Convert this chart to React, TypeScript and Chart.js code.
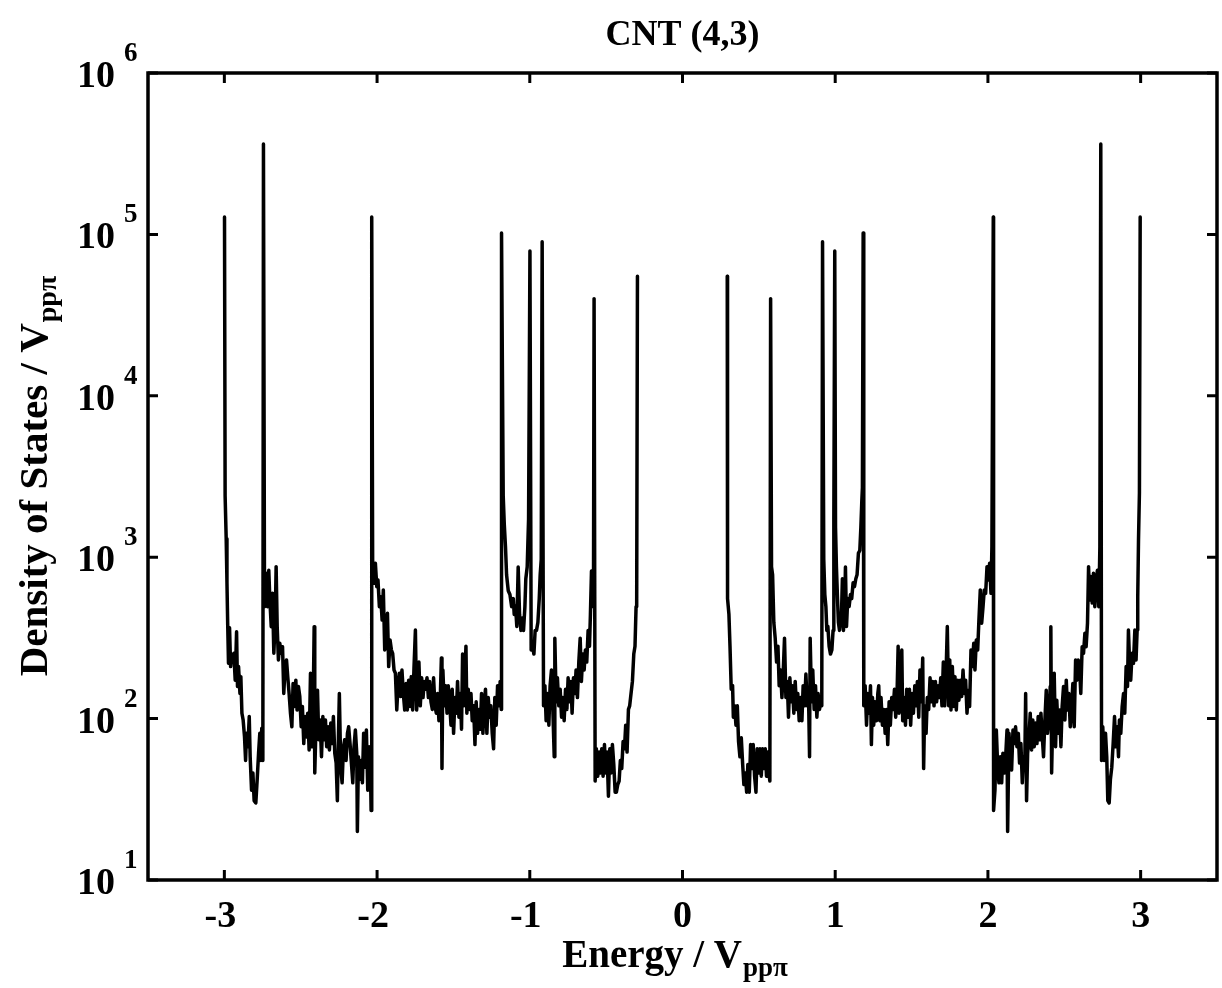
import React, { useEffect, useRef } from "react";
import { Chart, registerables } from "chart.js";

Chart.register(...registerables);

// Energy (units of V_pp-pi) and density of states, left half of spectrum
const energyNeg: number[] = [
  -2.999, -2.995, -2.988, -2.983, -2.978, -2.973, -2.966, -2.959, -2.953, -2.946, -2.938, -2.929, -2.92, -2.914, -2.907, -2.898, -2.892, -2.885, -2.877, -2.868, -2.861, -2.855, -2.846, -2.837, -2.831, -2.822, -2.813, -2.805, -2.794, -2.785, -2.776, -2.768, -2.761, -2.755, -2.748, -2.744,
  -2.737, -2.726, -2.717, -2.709, -2.702, -2.693, -2.685, -2.676, -2.667, -2.661, -2.654, -2.646, -2.637, -2.628, -2.619, -2.611, -2.602, -2.593, -2.585, -2.576, -2.567, -2.558, -2.55, -2.541, -2.532, -2.524, -2.515, -2.506, -2.497, -2.489, -2.48, -2.471, -2.462, -2.454, -2.445, -2.436, -2.428, -2.419, -2.412, -2.408, -2.399, -2.39, -2.382, -2.373, -2.364, -2.355, -2.347, -2.338, -2.33, -2.321, -2.312, -2.303, -2.294, -2.286, -2.277, -2.268, -2.26, -2.253, -2.247, -2.238, -2.229, -2.22, -2.212, -2.203, -2.194, -2.186, -2.177, -2.168, -2.159, -2.151, -2.142, -2.133, -2.129, -2.122, -2.114, -2.105, -2.096, -2.088, -2.079, -2.07, -2.061, -2.052, -2.044, -2.039, -2.035,
  -2.029, -2.02, -2.011, -2.002, -1.994, -1.985, -1.976, -1.967, -1.959, -1.95, -1.941, -1.932, -1.924, -1.915, -1.906, -1.898, -1.889, -1.88, -1.871, -1.863, -1.854, -1.845, -1.837, -1.828, -1.819, -1.81, -1.802, -1.793, -1.784, -1.776, -1.767, -1.758, -1.749, -1.741, -1.732,
  -1.726, -1.717, -1.708, -1.699, -1.691, -1.682, -1.673, -1.664, -1.656, -1.647, -1.638, -1.63, -1.621, -1.612, -1.604, -1.595, -1.586, -1.579, -1.575, -1.569, -1.56, -1.551, -1.542, -1.534, -1.525, -1.516, -1.508, -1.499, -1.49, -1.481, -1.473, -1.464, -1.455, -1.447, -1.44, -1.433, -1.425, -1.418, -1.412, -1.403, -1.394, -1.385, -1.377, -1.368, -1.359, -1.351, -1.342, -1.333, -1.324, -1.316, -1.307, -1.298, -1.29, -1.281, -1.272, -1.263, -1.255, -1.246, -1.237, -1.229, -1.22, -1.211, -1.202, -1.194, -1.187, -1.185,
  -1.174, -1.167, -1.159, -1.152, -1.141, -1.13, -1.119, -1.108, -1.102, -1.093, -1.085, -1.076, -1.067, -1.058, -1.05, -1.041, -1.032, -1.026, -1.017, -1.008, -0.999,
  -0.991, -0.982, -0.973, -0.965, -0.956, -0.947, -0.938, -0.932, -0.925, -0.919,
  -0.91, -0.901, -0.893, -0.884, -0.875, -0.867, -0.858, -0.849, -0.84, -0.836, -0.827, -0.819, -0.81, -0.801, -0.792, -0.784, -0.775, -0.766, -0.757, -0.749, -0.74, -0.731, -0.723, -0.714, -0.705, -0.697, -0.688, -0.679, -0.67, -0.662, -0.653, -0.644, -0.636, -0.627, -0.618, -0.609, -0.603, -0.596, -0.588, -0.583, -0.579,
  -0.572, -0.564, -0.555, -0.546, -0.537, -0.529, -0.52, -0.511, -0.503, -0.494, -0.485, -0.476, -0.468, -0.459, -0.45, -0.441, -0.433, -0.424, -0.415, -0.407, -0.398, -0.389, -0.38, -0.372, -0.363, -0.354, -0.346, -0.337, -0.328, -0.319, -0.311, -0.304, -0.3, -0.295,
];
const dosNeg: number[] = [
  128000, 2400, 1300, 700, 380, 220, 365, 210, 250, 226, 254, 173, 345, 158, 210, 143, 182, 108, 98, 77, 55, 81, 67, 103, 58, 36, 46, 31, 30, 42, 61, 81, 55, 87, 55, 363000,
  494, 794, 494, 830, 543, 371, 597, 254, 408, 874, 371, 231, 293, 254, 279, 143, 210, 231, 182, 143, 108, 89, 165, 119, 173, 113, 158, 137, 89, 119, 70, 103, 77, 108, 64, 191, 67, 108, 371, 46, 98, 150, 74, 98, 58, 103, 74, 98, 67, 89, 64, 94, 70, 103, 61, 53, 31, 77, 143, 50, 40, 67, 74, 55, 81, 89, 70, 53, 40, 67, 85, 61, 20, 58, 42, 55, 40, 81, 50, 85, 36, 67, 53, 27, 128000,
  961, 690, 916, 657, 722, 494, 569, 408, 627, 266, 307, 449, 210, 307, 266, 254, 200, 191, 113, 158, 191, 137, 200, 143, 113, 165, 113, 173, 119, 182, 113, 210, 354, 113, 158,
  224, 120, 179, 135, 170, 152, 179, 135, 170, 127, 114, 179, 120, 108, 143, 97, 135, 237, 49, 200, 120, 160, 108, 160, 127, 91, 152, 81, 135, 108, 170, 102, 143, 86, 251, 120, 179, 281, 108, 152, 114, 143, 97, 120, 69, 127, 81, 114, 86, 143, 81, 127, 152, 81, 135, 102, 120, 81, 65, 135, 91, 160, 120, 170, 114, 102000,
  2400, 1600, 1154, 778, 620, 587, 494, 554, 442, 494, 372, 870, 442, 352, 420, 352, 494, 736, 870, 1720, 79000,
  266, 281, 251, 352, 352, 394, 554, 778, 970, 90000,
  120, 160, 97, 143, 91, 160, 200, 114, 58, 315, 127, 179, 120, 152, 102, 135, 97, 152, 114, 179, 127, 170, 108, 179, 143, 200, 135, 224, 315, 170, 251, 200, 266, 224, 352, 281, 442, 820, 778, 494, 40000,
  41, 65, 44, 62, 46, 65, 44, 69, 46, 62, 33, 65, 46, 69, 52, 35, 35, 39, 41, 55, 49, 72, 65, 91, 62, 114, 120, 143, 170, 251, 281, 494, 554, 55000,
];

// Right half of spectrum
const energyPos: number[] = [
  0.293, 0.295, 0.304, 0.311, 0.319, 0.328, 0.333, 0.341, 0.35, 0.359, 0.367, 0.376, 0.385, 0.394, 0.402, 0.411, 0.42, 0.428, 0.437, 0.446, 0.455, 0.463, 0.472, 0.481, 0.489, 0.498, 0.507, 0.516, 0.524, 0.533, 0.542, 0.55, 0.559, 0.568, 0.572, 0.577,
  0.583, 0.59, 0.598, 0.607, 0.616, 0.625, 0.633, 0.642, 0.651, 0.659, 0.668, 0.677, 0.686, 0.694, 0.703, 0.712, 0.72, 0.729, 0.738, 0.747, 0.755, 0.764, 0.773, 0.782, 0.79, 0.799, 0.808, 0.817, 0.825, 0.832, 0.836, 0.845, 0.853, 0.862, 0.871, 0.88, 0.888, 0.897, 0.906, 0.912, 0.917,
  0.925, 0.932, 0.939, 0.945, 0.952, 0.96, 0.969, 0.978, 0.986, 0.991, 0.997,
  1.002, 1.008, 1.015, 1.021, 1.028, 1.034, 1.041, 1.047, 1.054, 1.061, 1.067, 1.074, 1.082, 1.091, 1.1, 1.108, 1.117, 1.126, 1.135, 1.143, 1.152, 1.161, 1.168, 1.174, 1.178, 1.183,
  1.187, 1.196, 1.205, 1.213, 1.222, 1.231, 1.237, 1.244, 1.252, 1.261, 1.27, 1.279, 1.285, 1.292, 1.3, 1.309, 1.318, 1.327, 1.335, 1.344, 1.353, 1.361, 1.37, 1.379, 1.388, 1.396, 1.405, 1.412, 1.418, 1.427, 1.436, 1.442, 1.451, 1.46, 1.468, 1.477, 1.486, 1.494, 1.503, 1.512, 1.521, 1.529, 1.538, 1.547, 1.555, 1.564, 1.573, 1.579, 1.586, 1.595, 1.603, 1.612, 1.621, 1.63, 1.638, 1.647, 1.656, 1.664, 1.673, 1.682, 1.691, 1.699, 1.708, 1.717, 1.725, 1.734, 1.743,
  1.75, 1.758, 1.767, 1.776, 1.784, 1.793, 1.802, 1.81, 1.819, 1.828, 1.837, 1.845, 1.854, 1.863, 1.872, 1.88, 1.889, 1.898, 1.907, 1.915, 1.924, 1.933, 1.941, 1.95, 1.959, 1.968, 1.976, 1.985, 1.994, 2.002, 2.011, 2.02, 2.026, 2.035,
  2.037, 2.046, 2.055, 2.063, 2.072, 2.081, 2.09, 2.098, 2.107, 2.116, 2.125, 2.129, 2.138, 2.146, 2.155, 2.164, 2.172, 2.181, 2.19, 2.199, 2.207, 2.216, 2.225, 2.233, 2.242, 2.247, 2.253, 2.26, 2.268, 2.277, 2.286, 2.294, 2.303, 2.312, 2.321, 2.329, 2.338, 2.347, 2.356, 2.364, 2.373, 2.382, 2.39, 2.399, 2.408, 2.412, 2.417, 2.425, 2.434, 2.443, 2.451, 2.46, 2.469, 2.478, 2.486, 2.495, 2.504, 2.513, 2.521, 2.53, 2.539, 2.547, 2.556, 2.565, 2.574, 2.582, 2.591, 2.6, 2.608, 2.617, 2.626, 2.635, 2.643, 2.652, 2.659, 2.665, 2.674, 2.683, 2.691, 2.7, 2.709, 2.717, 2.726, 2.733, 2.739,
  2.744, 2.752, 2.761, 2.77, 2.778, 2.785, 2.794, 2.802, 2.811, 2.82, 2.829, 2.837, 2.846, 2.855, 2.861, 2.87, 2.879, 2.888, 2.896, 2.905, 2.914, 2.92, 2.927, 2.935, 2.944, 2.953, 2.962, 2.97, 2.977, 2.981, 2.986, 2.992, 2.997,
];
const dosPos: number[] = [
  55000, 554, 442, 281, 152, 160, 102, 120, 91, 120, 72, 58, 76, 52, 39, 46, 35, 52, 35, 69, 49, 69, 44, 35, 65, 46, 65, 44, 65, 49, 65, 44, 62, 44, 41, 40000,
  870, 778, 394, 315, 224, 281, 160, 200, 135, 189, 315, 135, 170, 102, 179, 127, 160, 108, 170, 114, 143, 97, 135, 97, 160, 120, 189, 120, 143, 58, 315, 127, 200, 114, 160, 102, 143, 114, 127, 120, 90000,
  970, 587, 494, 352, 372, 281, 251, 266, 352, 1720, 79000,
  1531, 870, 554, 394, 352, 394, 442, 736, 352, 442, 870, 372, 554, 494, 587, 554, 694, 657, 736, 778, 1060, 1100, 1531, 2200, 2695, 102000,
  120, 160, 91, 143, 108, 160, 69, 135, 91, 127, 97, 143, 160, 97, 135, 91, 114, 81, 114, 69, 127, 91, 135, 114, 152, 102, 143, 281, 108, 152, 266, 97, 135, 91, 152, 102, 152, 91, 143, 108, 160, 120, 170, 102, 200, 127, 237, 49, 120, 81, 135, 114, 179, 127, 170, 120, 170, 127, 160, 135, 179, 120, 224, 120, 179, 372, 120,
  231, 113, 210, 119, 182, 113, 173, 130, 173, 137, 200, 143, 173, 108, 150, 119, 266, 210, 293, 200, 307, 266, 408, 627, 390, 494, 627, 597, 874, 722, 916, 597, 1162, 128000,
  27, 36, 85, 53, 40, 58, 40, 61, 46, 58, 85, 20, 81, 58, 48, 85, 70, 89, 67, 81, 53, 70, 40, 58, 58, 143, 31, 61, 74, 108, 64, 98, 67, 94, 70, 103, 74, 108, 77, 58, 98, 150, 81, 98, 158, 371, 46, 108, 191, 67, 130, 81, 113, 67, 119, 158, 98, 173, 113, 143, 89, 113, 165, 89, 231, 173, 231, 210, 143, 279, 254, 338, 279, 390, 874, 543, 760, 520, 794, 494, 722, 830, 494, 1162, 363000,
  55, 89, 55, 81, 58, 31, 30, 42, 50, 70, 103, 67, 89, 58, 98, 81, 119, 143, 108, 210, 158, 354, 231, 173, 254, 220, 354, 231, 354, 569, 1278, 2487, 128000,
];

const xTickValues: number[] = [-3, -2, -1, 0, 1, 2, 3];
const yTickExponents: number[] = [1, 2, 3, 4, 5, 6];

const titleText = "CNT (4,3)";
const xLabelMain = "Energy / V";
const yLabelMain = "Density of States / V";
const labelSub = "ppπ";

const FONT = "'Liberation Serif', 'Times New Roman', serif";

const decorPlugin = {
  id: "decor",
  afterDraw(chart: any) {
    const ctx = chart.ctx as CanvasRenderingContext2D;
    const a = chart.chartArea;
    const xs = chart.scales.x;
    const ys = chart.scales.y;
    ctx.save();
    ctx.strokeStyle = "#000";
    ctx.fillStyle = "#000";
    ctx.lineWidth = 3.5;
    ctx.lineCap = "butt";
    ctx.strokeRect(a.left, a.top, a.right - a.left, a.bottom - a.top);
    const tl = 10;
    ctx.lineWidth = 3;
    ctx.beginPath();
    xTickValues.forEach((v) => {
      const px = xs.getPixelForValue(v);
      ctx.moveTo(px, a.bottom);
      ctx.lineTo(px, a.bottom - tl);
      ctx.moveTo(px, a.top);
      ctx.lineTo(px, a.top + tl);
    });
    yTickExponents.forEach((e) => {
      const py = ys.getPixelForValue(Math.pow(10, e));
      ctx.moveTo(a.left, py);
      ctx.lineTo(a.left + tl, py);
      ctx.moveTo(a.right, py);
      ctx.lineTo(a.right - tl, py);
    });
    ctx.stroke();

    // x tick labels
    ctx.font = `bold 38px ${FONT}`;
    ctx.textAlign = "center";
    ctx.textBaseline = "alphabetic";
    xTickValues.forEach((v) => {
      const px = xs.getPixelForValue(v);
      ctx.fillText(String(v), px - (v < 0 ? 4 : 0), a.bottom + 47);
    });

    // y tick labels: 10 with exponent
    yTickExponents.forEach((e) => {
      const py = ys.getPixelForValue(Math.pow(10, e));
      ctx.font = `bold 38px ${FONT}`;
      ctx.textAlign = "right";
      ctx.textBaseline = "alphabetic";
      ctx.fillText("10", 115, py + 14);
      ctx.font = `bold 27px ${FONT}`;
      ctx.textAlign = "left";
      ctx.fillText(String(e), 124, py - 12);
    });

    // title
    const cx = (a.left + a.right) / 2;
    ctx.font = `bold 36px ${FONT}`;
    ctx.textAlign = "center";
    ctx.fillText(titleText, cx, 45);

    // x label
    ctx.font = `bold 39px ${FONT}`;
    const wMain = ctx.measureText(xLabelMain).width;
    ctx.font = `bold 27px ${FONT}`;
    const wSub = ctx.measureText(labelSub).width;
    const startX = cx - (wMain + wSub) / 2 - 8;
    ctx.textAlign = "left";
    ctx.font = `bold 39px ${FONT}`;
    ctx.fillText(xLabelMain, startX, 967);
    ctx.font = `bold 27px ${FONT}`;
    ctx.fillText(labelSub, startX + wMain + 1, 976);

    // y label (rotated)
    ctx.save();
    ctx.translate(47, (a.top + a.bottom) / 2);
    ctx.rotate(-Math.PI / 2);
    ctx.font = `bold 41px ${FONT}`;
    const yMain = ctx.measureText(yLabelMain).width;
    ctx.font = `bold 28px ${FONT}`;
    const ySub = ctx.measureText(labelSub).width;
    const sx = -(yMain + ySub) / 2;
    ctx.textAlign = "left";
    ctx.font = `bold 41px ${FONT}`;
    ctx.fillText(yLabelMain, sx, 0);
    ctx.font = `bold 28px ${FONT}`;
    ctx.fillText(labelSub, sx + yMain + 1, 9);
    ctx.restore();

    ctx.restore();
  },
};

export default function App() {
  const ref = useRef<HTMLCanvasElement | null>(null);
  useEffect(() => {
    if (!ref.current) return;
    const neg = energyNeg.map((x, i) => ({ x, y: dosNeg[i] }));
    const pos = energyPos.map((x, i) => ({ x, y: dosPos[i] }));
    const common = {
      borderColor: "#000",
      borderWidth: 3.5,
      pointRadius: 0,
      tension: 0,
      fill: false,
      borderJoinStyle: "round" as const,
      borderCapStyle: "round" as const,
    };
    const chart = new Chart(ref.current, {
      type: "line",
      data: {
        datasets: [
          { ...common, data: neg },
          { ...common, data: pos },
        ],
      },
      options: {
        animation: false,
        responsive: false,
        parsing: true,
        layout: { padding: { left: 148, right: 5, top: 73, bottom: 108 } },
        plugins: { legend: { display: false }, tooltip: { enabled: false }, title: { display: false } },
        scales: {
          x: { type: "linear", min: -3.5, max: 3.5, display: false },
          y: { type: "logarithmic", min: 10, max: 1000000, display: false },
        },
      },
      plugins: [decorPlugin],
    });
    return () => chart.destroy();
  }, []);
  return (
    <div style={{ position: "fixed", left: 0, top: 0, width: 1222, height: 988, background: "#fff" }}>
      <canvas ref={ref} width={1222} height={988} style={{ width: 1222, height: 988 }} />
    </div>
  );
}
